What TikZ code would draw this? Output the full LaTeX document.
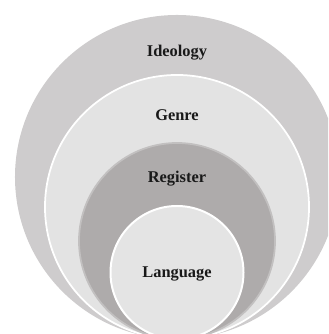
\documentclass[tikz,border=0pt]{standalone}
\usepackage{fontspec}
\setmainfont{Liberation Serif}
\usetikzlibrary{positioning}
\definecolor{ideologygray}{HTML}{CECCCD}
\definecolor{genregray}{HTML}{E3E3E3}
\definecolor{registergray}{HTML}{AEABAB}
\definecolor{registerrim}{HTML}{C2C0C0}
\definecolor{languagegray}{HTML}{E4E4E4}

\begin{document}
\begin{tikzpicture}[
            x=0.03cm, y=0.03cm,
            disc/.style={circle, inner sep=0pt, outer sep=0pt, anchor=south},
            tag/.style={font=\bfseries\fontsize{14}{16}\selectfont, text=black!90, anchor=base},
        ]
            \useasboundingbox (0,0) rectangle (328,334);
            \clip (0,0) rectangle (328,334);
            \coordinate (bot) at (177,-5);
            % nested circles, all touching at the bottom
            \node[disc, minimum size=9.72cm, fill=ideologygray] (ideology) at (bot) {};
            \node[disc, minimum size=7.92cm, fill=genregray, draw=white, line width=1.5pt] (genre) at (bot) {};
            \node[disc, minimum size=5.88cm, fill=registergray, draw=registerrim, line width=1.5pt] (register) at (bot) {};
            \node[disc, minimum size=3.99cm, fill=languagegray, draw=white, line width=1.7pt] (language) at (bot) {};
            % labels
            \node[tag] (ideologytext) at (177,277) {Ideology};
            \node[tag] (genretext) at (177,213) {Genre};
            \node[tag] (registertext) at (177,151) {Register};
            \node[tag] (languagetext) at (177,56) {Language};
        \end{tikzpicture}
\end{document}
